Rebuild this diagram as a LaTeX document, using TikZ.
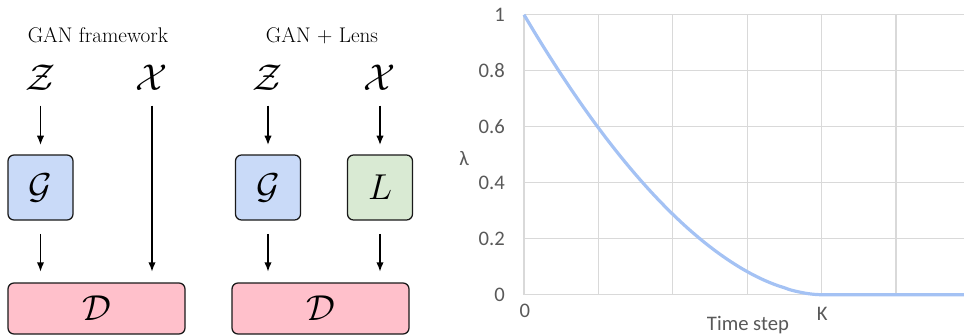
\RequirePackage{fix-cm}
\documentclass[tikz,border=0pt]{standalone}
\usepackage{fontspec}
\newfontfamily\chartfont{Carlito}
\usetikzlibrary{positioning,arrows.meta}
\definecolor{genblue}{RGB}{201,218,248}
\definecolor{lensgreen}{RGB}{217,234,211}
\definecolor{discpink}{RGB}{255,192,203}
\definecolor{gridgray}{RGB}{217,217,217}
\definecolor{curveblue}{RGB}{164,194,244}
\definecolor{axisgray}{RGB}{89,89,89}
\tikzset{
  flowarrow/.style={-{Latex[length=7pt, width=5.5pt]}, line width=1.05pt},
  inarrow/.style={flowarrow, shorten <=11pt, shorten >=7pt},
  outarrow/.style={flowarrow, shorten <=10pt, shorten >=8pt},
  longarrow/.style={flowarrow, shorten <=11pt, shorten >=8pt},
  netbox/.style={draw=black!90, rounded corners=4.5pt, line width=0.95pt, align=center, font=\fontsize{27}{30}\selectfont},
  genbox/.style={netbox, fill=genblue, minimum width=48.75pt, minimum height=48.75pt},
  lensbox/.style={netbox, fill=lensgreen, minimum width=48.75pt, minimum height=48.75pt},
  discbox/.style={netbox, fill=discpink, minimum width=132.75pt, minimum height=38.25pt},
  varlabel/.style={inner sep=0pt, font=\fontsize{28}{31}\selectfont},
  titlelabel/.style={anchor=base, font=\fontsize{15.9}{19}\selectfont},
  gridline/.style={gridgray, line width=0.9pt},
  curveline/.style={curveblue, line width=2.4pt},
  ticklab/.style={inner sep=0pt, text=axisgray, font=\chartfont\fontsize{15.5}{18}\selectfont}
}

\begin{document}
\begin{tikzpicture}[x=0.75pt, y=-0.75pt]
  \useasboundingbox (0,0) rectangle (964,335);

  % left: the two frameworks
  \node[titlelabel] (ganttl) at (98,43) {GAN framework};
  \node[titlelabel] (lensttl) at (322,43) {GAN + Lens};
  \node[varlabel] (z1) at (40.5,78) {$\mathcal{Z}$};
  \node[varlabel] (x1) at (152,78) {$\mathcal{X}$};
  \node[varlabel] (z2) at (268,78) {$\mathcal{Z}$};
  \node[varlabel] (x2) at (380,78) {$\mathcal{X}$};
  \node[genbox] (g1) at (40.5,187.5) {$\mathcal{G}$};
  \node[genbox] (g2) at (268,187.5) {$\mathcal{G}$};
  \node[lensbox] (lens) at (380,187.5) {$L$};
  \node[discbox] (d1) at (96.5,308.5) {$\mathcal{D}$};
  \node[discbox] (d2) at (320.5,308.5) {$\mathcal{D}$};
  \draw[inarrow] (z1.south) -- (g1.north);
  \draw[inarrow] (z2.south) -- (g2.north);
  \draw[inarrow] (x2.south) -- (lens.north);
  \draw[outarrow] (g1.south) -- (g1.south |- d1.north);
  \draw[longarrow] (x1.south) -- (x1.south |- d1.north);
  \draw[outarrow] (g2.south) -- (g2.south |- d2.north);
  \draw[outarrow] (lens.south) -- (lens.south |- d2.north);

  % right: lambda schedule
  \begin{scope}[shift={(524,294.7)}, x=55.8pt, y=210pt]
    \foreach \t in {0,...,6} \draw[gridline] (\t,0) -- (\t,1);
    \foreach \v in {0,0.2,0.4,0.6,0.8,1} \draw[gridline] (0,\v) -- (6,\v);
    \foreach \v [count=\i] in {0,0.2,0.4,0.6,0.8,1}
      \node[ticklab, anchor=east] (ytick\i) at (-0.255,\v) {\v};
    \draw[curveline] plot[domain=0:3.97, samples=60, smooth] (\x,{(1-\x/4)^1.8}) -- (4,0) -- (6,0);
    \node[ticklab] (xzero) at (0.01,-0.058) {0};
    \node[ticklab] (xkay) at (4.01,-0.069) {K};
    \node[ticklab] (xtitle) at (3.01,-0.108) {Time step};
    \node[ticklab] (lambda) at (-0.806,0.488) {λ};
  \end{scope}
\end{tikzpicture}
\end{document}
